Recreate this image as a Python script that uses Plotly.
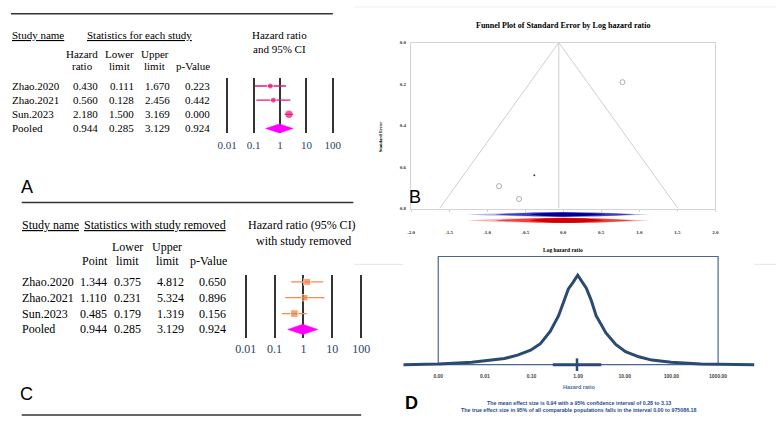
import plotly.graph_objects as go

# ---------------- data ----------------
studies = ["Zhao.2020", "Zhao.2021", "Sun.2023"]
# Panel A: statistics for each study
hr_a = [0.430, 0.560, 2.180]
lo_a = [0.111, 0.128, 1.500]
up_a = [1.670, 2.456, 3.169]
p_a = [0.223, 0.442, 0.000]
# Pooled
pooled = {"hr": 0.944, "lo": 0.285, "up": 3.129, "p": 0.924}
# Panel C: with study removed
pt_c = [1.344, 1.110, 0.485]
lo_c = [0.375, 0.231, 0.179]
up_c = [4.812, 5.324, 1.319]
p_c = [0.650, 0.896, 0.156]
# Panel B: funnel plot
funnel_loghr = [-0.844, -0.580, 0.779]
funnel_se = [0.692, 0.754, 0.191]
imputed_loghr = [-0.38]
imputed_se = [0.64]
pooled_loghr = -0.058
funnel_se_max = 0.8
# Panel D: prediction distribution (log10 hazard ratio vs relative density)
pred_log10 = [-3.75, -2.99, -2.28, -1.93, -1.58, -1.30, -1.02, -0.81, -0.60, -0.42, -0.32,
              -0.21, -0.11, -0.01, 0.175, 0.28, 0.385, 0.595, 0.805, 1.015, 1.30, 1.58,
              1.995, 2.63, 3.78]
pred_density = [0.0, 0.007, 0.026, 0.044, 0.069, 0.106, 0.161, 0.234, 0.372, 0.547, 0.682,
                0.847, 0.92, 1.0, 0.854, 0.719, 0.547, 0.354, 0.226, 0.146, 0.088, 0.051,
                0.026, 0.007, 0.0]
d_ticks = [0.001, 0.01, 0.1, 1, 10, 100, 1000]
d_ticktext = ["0.00", "0.01", "0.10", "1.00", "10.00", "100.00", "1000.00"]
forest_ticks = [0.01, 0.1, 1, 10, 100]
forest_ticktext = ["0.01", "0.1", "1", "10", "100"]

# ---------------- helpers ----------------
W, H = 784, 422
def px(x):
    return x / W
def py(y):
    return 1 - y / H
def dom_x(a, b):
    return [px(a), px(b)]
def dom_y(top, bottom):
    return [py(bottom), py(top)]

SERIF = "Liberation Serif"
SANS = "Liberation Sans"
PINK = "#e8177a"
MAGENTA = "#ff00ff"
ORANGE = "#f47b3a"

fig = go.Figure()
annotations = []
shapes = []

def txt(x, y, s, size, anchor="center", font=SERIF, color="black", xref="paper", yref="paper", angle=0):
    f = dict(family=font, size=size, color=color)
    annotations.append(dict(x=x, y=y, xref=xref, yref=yref, text=s, showarrow=False,
                            xanchor=anchor, yanchor="middle", font=f, textangle=angle,
                            borderpad=0, borderwidth=0))

def hline(y, x0, x1, color="#333", width=1.5):
    shapes.append(dict(type="line", xref="paper", yref="paper", x0=px(x0), x1=px(x1),
                       y0=py(y), y1=py(y), line=dict(color=color, width=width)))

# ---------------- Panel A ----------------
rows = list(range(len(studies)))
pool_row = len(studies)
fig.add_trace(go.Scatter(
    x=hr_a, y=rows, mode="markers", xaxis="x", yaxis="y",
    marker=dict(color=PINK, size=[6, 6, 8.5], symbol="circle"),
    error_x=dict(type="data", symmetric=False,
                 array=[u - h for u, h in zip(up_a, hr_a)],
                 arrayminus=[h - l for h, l in zip(hr_a, lo_a)],
                 color=PINK, thickness=1.3, width=0)))
dh = 0.32
fig.add_trace(go.Scatter(
    x=[pooled["lo"], pooled["hr"], pooled["up"], pooled["hr"], pooled["lo"]],
    y=[pool_row, pool_row - dh, pool_row, pool_row + dh, pool_row],
    mode="lines", fill="toself", fillcolor=MAGENTA, line=dict(color=MAGENTA, width=0.5),
    xaxis="x", yaxis="y"))

hline(12, 2, 331)
fsA = 11
txt(px(3), py(33), "<u>Study name</u>", fsA, "left")
txt(px(133), py(33), "<u>Statistics for each study</u>", fsA)
txt(px(276), py(33), "Hazard ratio", fsA)
txt(px(276), py(48), "and 95% CI", fsA)
for cx, l1, l2 in [(75, "Hazard", "ratio"), (113, "Lower", "limit"), (149, "Upper", "limit")]:
    txt(px(cx), py(53), l1, fsA)
    txt(px(cx), py(65), l2, fsA)
txt(px(188), py(65), "p-Value", fsA)
names_all = studies + ["Pooled"]
colsA = [hr_a + [pooled["hr"]], lo_a + [pooled["lo"]], up_a + [pooled["up"]], p_a + [pooled["p"]]]
rightA = [91, 128, 165, 205]
for i, nm in enumerate(names_all):
    txt(px(3), i, nm, fsA, "left", yref="y")
    for col, xr in zip(colsA, rightA):
        txt(px(xr), i, f"{col[i]:.3f}", fsA, "right", yref="y")
txt(px(18), py(187), "A", 18, font=SANS)

# ---------------- Panel C ----------------
fig.add_trace(go.Scatter(
    x=pt_c, y=rows, mode="markers", xaxis="x2", yaxis="y2",
    marker=dict(color=ORANGE, size=[7, 6.5, 7.5], symbol="square"),
    error_x=dict(type="data", symmetric=False,
                 array=[u - h for u, h in zip(up_c, pt_c)],
                 arrayminus=[h - l for h, l in zip(pt_c, lo_c)],
                 color="#f58a4e", thickness=1.3, width=0)))
fig.add_trace(go.Scatter(
    x=[pooled["lo"], pooled["hr"], pooled["up"], pooled["hr"], pooled["lo"]],
    y=[pool_row, pool_row - dh, pool_row, pool_row + dh, pool_row],
    mode="lines", fill="toself", fillcolor=MAGENTA, line=dict(color=MAGENTA, width=0.5),
    xaxis="x2", yaxis="y2"))

hline(203, 13, 352)
hline(418, 13, 360)
fsC = 12
txt(px(13), py(226), "<u>Study name</u>", fsC, "left")
txt(px(149), py(226), "<u>Statistics with study removed</u>", fsC)
txt(px(299), py(226), "Hazard ratio (95% CI)", fsC)
txt(px(301), py(242), "with study removed", fsC)
txt(px(88), py(262), "Point", fsC)
for cx in (121, 162):
    txt(px(cx), py(248), "Lower" if cx == 121 else "Upper", fsC)
    txt(px(cx), py(262), "limit", fsC)
txt(px(204), py(262), "p-Value", fsC)
colsC = [pt_c + [pooled["hr"]], lo_c + [pooled["lo"]], up_c + [pooled["up"]], p_c + [pooled["p"]]]
rightC = [100, 135, 179, 222]
for i, nm in enumerate(names_all):
    txt(px(13), i, nm, fsC, "left", yref="y2")
    for col, xr in zip(colsC, rightC):
        txt(px(xr), i, f"{col[i]:.3f}", fsC, "right", yref="y2")
txt(px(18), py(397), "C", 18, font=SANS)

# ---------------- Panel B (funnel) ----------------
fl = pooled_loghr - 1.96 * funnel_se_max
fr = pooled_loghr + 1.96 * funnel_se_max
fig.add_trace(go.Scatter(x=[fl, pooled_loghr, fr], y=[funnel_se_max, 0, funnel_se_max],
                         mode="lines", line=dict(color="#cfcfcf", width=1), xaxis="x3", yaxis="y3"))
fig.add_trace(go.Scatter(x=[pooled_loghr, pooled_loghr], y=[0, funnel_se_max],
                         mode="lines", line=dict(color="#cfcfcf", width=1), xaxis="x3", yaxis="y3"))
fig.add_trace(go.Scatter(x=funnel_loghr, y=funnel_se, mode="markers", xaxis="x3", yaxis="y3",
                         marker=dict(symbol="circle-open", size=5, color="#9a9a9a", line=dict(width=0.8))))
fig.add_trace(go.Scatter(x=imputed_loghr, y=imputed_se, mode="markers", xaxis="x3", yaxis="y3",
                         marker=dict(symbol="circle", size=2, color="#444")))
txt(px(566), py(24), "<b>Funnel Plot of Standard Error by Log hazard ratio</b>", 8)
txt(px(380), py(137), "<b>Standard Error</b>", 4.5, angle=-90)
txt(px(566), py(251), "<b>Log hazard ratio</b>", 5.5)
txt(px(415), py(197), "B", 18, font=SANS)

# spindles under the funnel
def spindle(x0, x1, xc, yc, half, color, opacity):
    y = py(yc)
    d = 2 * half / H
    path = (f"M {x0},{y} Q {xc},{y + d} {x1},{y} Q {xc},{y - d} {x0},{y} Z")
    shapes.append(dict(type="path", xref="x3", yref="paper", path=path,
                       fillcolor=color, line=dict(width=0), opacity=opacity))
spindle(-1.27, 1.14, -0.05, 215, 2.2, "#6a6ad8", 0.5)
spindle(-0.9, 0.95, -0.05, 215, 2.2, "#2020b0", 0.8)
spindle(-0.45, 0.55, -0.05, 215, 2.0, "#000090", 1.0)
spindle(-1.27, 1.14, -0.02, 221, 2.6, "#f07070", 0.5)
spindle(-0.9, 0.95, -0.02, 221, 2.6, "#e82020", 0.8)
spindle(-0.45, 0.55, -0.02, 221, 2.4, "#d00000", 1.0)

# ---------------- Panel D ----------------
NAVY = "#2a4a72"
box_top = 1.21
fig.add_trace(go.Scatter(x=[d_ticks[0], d_ticks[-1], d_ticks[-1], d_ticks[0], d_ticks[0]],
                         y=[0, 0, box_top, box_top, 0], mode="lines",
                         line=dict(color="#4a6690", width=1.2), xaxis="x4", yaxis="y4"))
fig.add_trace(go.Scatter(x=[10 ** v for v in pred_log10], y=pred_density, mode="lines",
                         line=dict(color=NAVY, width=3), xaxis="x4", yaxis="y4"))
fig.add_trace(go.Scatter(x=[pooled["lo"], pooled["up"]], y=[0, 0], mode="lines",
                         line=dict(color=NAVY, width=3), xaxis="x4", yaxis="y4"))
fig.add_trace(go.Scatter(x=[pooled["hr"]], y=[0], mode="markers", xaxis="x4", yaxis="y4",
                         marker=dict(symbol="line-ns-open", size=9, color=NAVY,
                                     line=dict(color=NAVY, width=2.5)),
                         cliponaxis=False))
txt(px(583), py(390), "<b>Hazard ratio</b>", 5.5, font=SANS, color="#4a6aa0")
txt(px(583), py(406), f"<b>The mean effect size is {pooled['hr']:.2f} with a 95% confidence interval of "
                      f"{pooled['lo']:.2f} to {pooled['up']:.2f}</b>", 5.3, font=SANS, color="#2b4c8c")
txt(px(583), py(413), "<b>The true effect size in 95% of all comparable populations falls in the interval "
                      "0.00 to 975086.18</b>", 5.3, font=SANS, color="#2b4c8c")
txt(px(411), py(406), "<b>D</b>", 18, font=SANS)

# faint compositing lines
hline(5, 353, 784, color="#efefef", width=1)
hline(265.5, 353, 403, color="#e6e6e6", width=1)
hline(265.5, 762, 784, color="#e6e6e6", width=1)

# ---------------- layout ----------------
forest_x = dict(type="log", tickvals=forest_ticks, ticktext=forest_ticktext, showgrid=True,
                gridcolor="#333", gridwidth=1.8, zeroline=False, showline=False, ticks="",
                fixedrange=True)
fig.update_layout(
    width=W, height=H, autosize=False, showlegend=False,
    margin=dict(l=0, r=0, t=0, b=0), paper_bgcolor="white", plot_bgcolor="white",
    xaxis=dict(forest_x, range=[-2.05, 2.05], domain=dom_x(221.6, 332.4),
               tickfont=dict(family=SERIF, size=11), ticklabelstandoff=4, anchor="y"),
    yaxis=dict(range=[3.35, -0.56], domain=dom_y(77, 133), visible=False, anchor="x"),
    xaxis2=dict(forest_x, range=[-2.05, 2.05], domain=dom_x(240.5, 361.5),
                tickfont=dict(family=SERIF, size=12), ticklabelstandoff=2, anchor="y2"),
    yaxis2=dict(range=[3.54, -0.45], domain=dom_y(276, 340), visible=False, anchor="x2"),
    xaxis3=dict(range=[-2, 2], domain=dom_x(411, 722), anchor="y3", tickvals=[-2, -1.5, -1, -0.5, 0, 0.5, 1, 1.5, 2],
                ticktext=["-2.0", "-1.5", "-1.0", "-0.5", "0.0", "0.5", "1.0", "1.5", "2.0"],
                showline=True, mirror=True, linecolor="#d4d4d4", linewidth=1, showgrid=False,
                zeroline=False, ticks="outside", ticklen=2, tickcolor="#d4d4d4",
                tickfont=dict(family=SERIF, size=5, color="#333", weight="bold"), ticklabelstandoff=16),
    yaxis3=dict(range=[0.8, 0], domain=dom_y(41, 209), anchor="x3", tickvals=[0, 0.2, 0.4, 0.6, 0.8],
                ticktext=["0.0", "0.2", "0.4", "0.6", "0.8"],
                showline=True, mirror=True, linecolor="#d4d4d4", linewidth=1, showgrid=False,
                zeroline=False, ticks="", ticklabelstandoff=3,
                tickfont=dict(family=SERIF, size=5, color="#333", weight="bold")),
    xaxis4=dict(type="log", range=[-3.75, 3.78], domain=dom_x(403, 762), anchor="y4",
                tickvals=d_ticks, ticktext=d_ticktext, showgrid=False, zeroline=False,
                showline=False, ticks="", ticklabelstandoff=2,
                tickfont=dict(family=SANS, size=5, color="#444", weight="bold")),
    yaxis4=dict(range=[-0.055, box_top + 0.005], domain=dom_y(257, 372), visible=False, anchor="x4"),
    annotations=annotations, shapes=shapes,
)
fig.write_html("out.html", config={"displayModeBar": False},
               post_script="document.body.style.margin='0';document.body.style.overflow='hidden';")
